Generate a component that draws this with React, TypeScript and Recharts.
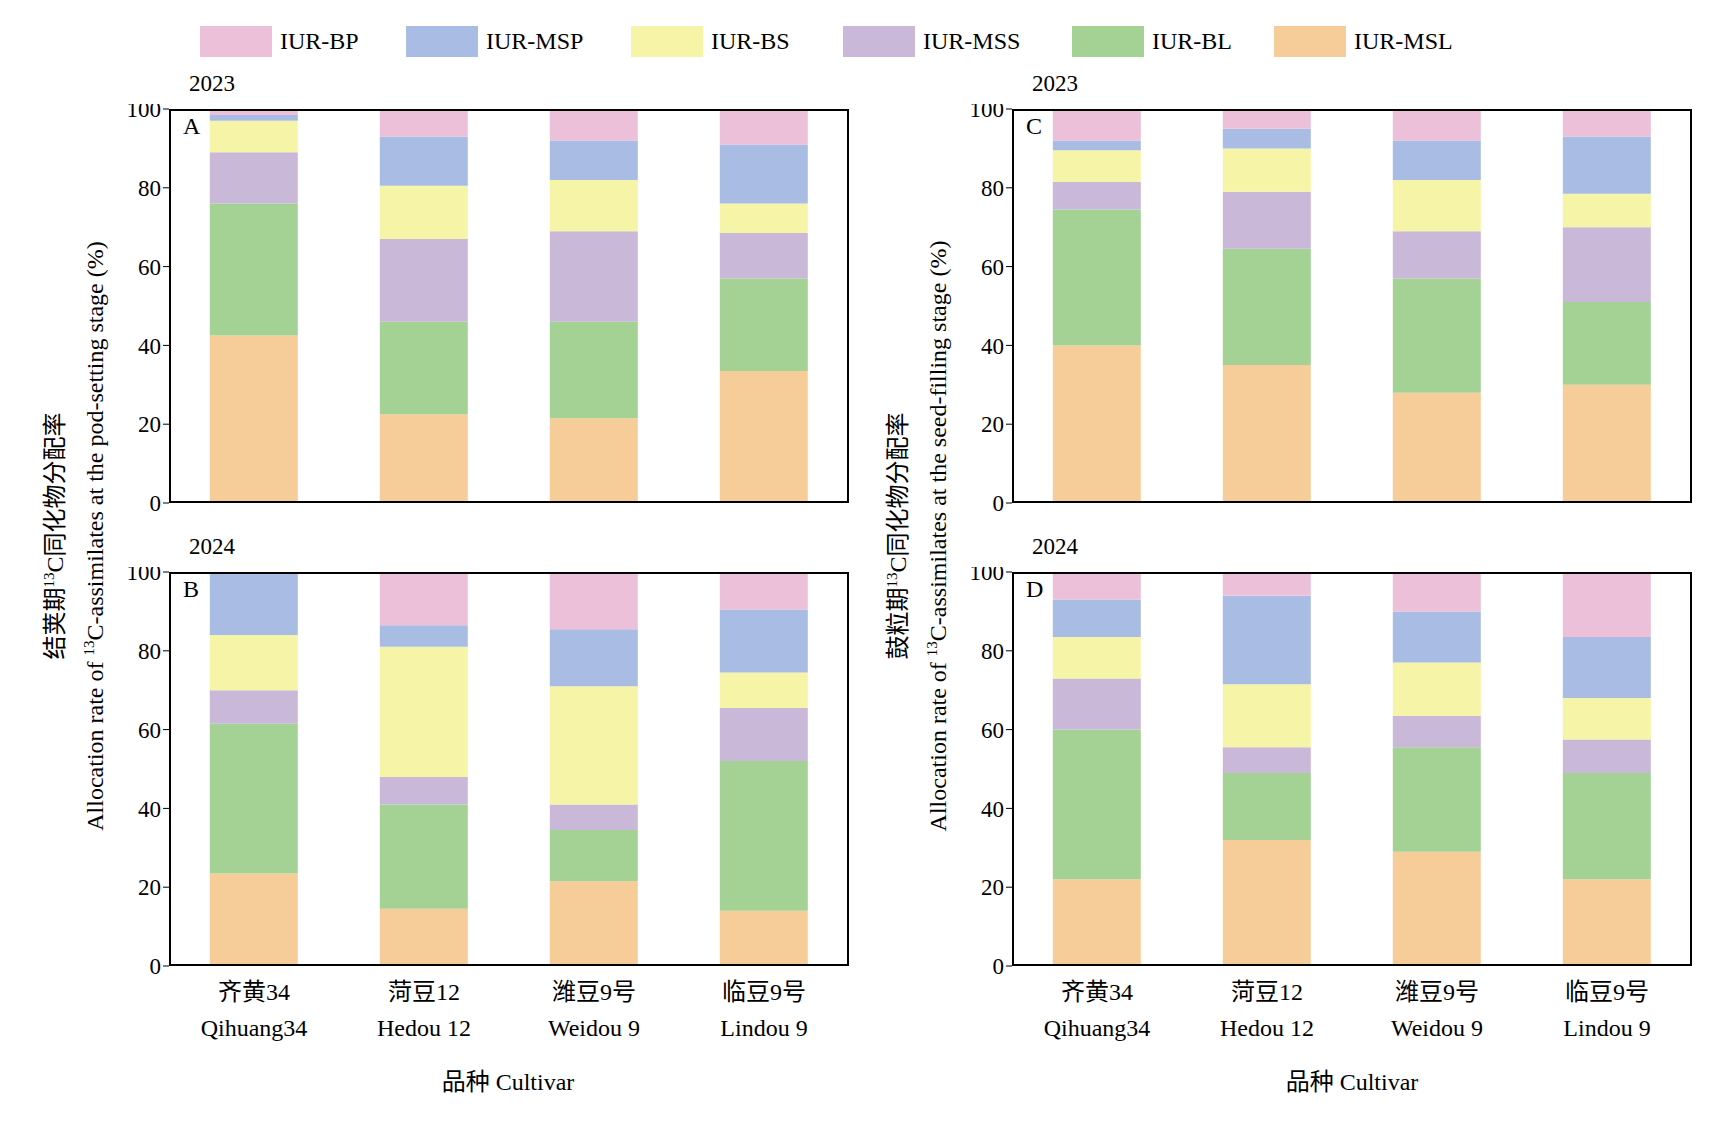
import React from "react";
import { BarChart, Bar, XAxis, YAxis } from "recharts";

const cultivars = ["齐黄34|Qihuang34", "菏豆12|Hedou 12", "潍豆9号|Weidou 9", "临豆9号|Lindou 9"];
const seriesKeys = ["MSL", "BL", "MSS", "BS", "MSP", "BP"];
const seriesNames = ["IUR-MSL", "IUR-BL", "IUR-MSS", "IUR-BS", "IUR-MSP", "IUR-BP"];
const colors = ["#f6cd98", "#a4d295", "#c9b8d8", "#f6f4a6", "#a9bce3", "#ecc0d8"];
const yTicks = [0, 20, 40, 60, 80, 100];

// per cultivar: MSL, BL, MSS, BS, MSP, BP
const panelA = [
  [42.5, 33.5, 13, 8, 1.5, 1.5],
  [22.5, 23.5, 21, 13.5, 12.5, 7],
  [21.5, 24.5, 23, 13, 10, 8],
  [33.5, 23.5, 11.5, 7.5, 15, 9],
];
const panelB = [
  [23.5, 38, 8.5, 14, 16, 0],
  [14.5, 26.5, 7, 33, 5.5, 13.5],
  [21.5, 13, 6.5, 30, 14.5, 14.5],
  [14, 38, 13.5, 9, 16, 9.5],
];
const panelC = [
  [40, 34.5, 7, 8, 2.5, 8],
  [35, 29.5, 14.5, 11, 5, 5],
  [28, 29, 12, 13, 10, 8],
  [30, 21, 19, 8.5, 14.5, 7],
];
const panelD = [
  [22, 38, 13, 10.5, 9.5, 7],
  [32, 17, 6.5, 16, 22.5, 6],
  [29, 26.5, 8, 13.5, 13, 10],
  [22, 27, 8.5, 10.5, 15.5, 16.5],
];

const FONT = "'Liberation Serif', 'Noto Sans CJK SC', serif";
const PW = 680;
const PH = 394;

const toRows = (vals: number[][]) =>
  cultivars.map((c, i) => {
    const r: any = { name: c };
    seriesKeys.forEach((k, j) => (r[k] = vals[i][j]));
    return r;
  });

const XTick = (props: any) => {
  const { x, y, payload } = props;
  const [cn, en] = String(payload.value).split("|");
  return (
    <text x={x} y={y} textAnchor="middle" fontSize={24} fontFamily={FONT} fill="#000">
      <tspan x={x} dy={26}>{cn}</tspan>
      <tspan x={x} dy={36}>{en}</tspan>
    </text>
  );
};

function Panel({ left, top, vals, letter, year, bottom }: any) {
  const xh = bottom ? 80 : 1;
  const mb = bottom ? 0 : 20;
  return (
    <>
      <div style={{ position: "absolute", left: left + 20, top: top - 38, fontSize: 23, fontFamily: FONT }}>{year}</div>
      <div style={{ position: "absolute", left: left - 62, top: top - 5 }}>
        <BarChart width={PW + 62} height={PH + 5 + xh + mb} data={toRows(vals)} margin={{ top: 5, right: 0, bottom: mb, left: 0 }} barCategoryGap="24%">
          <XAxis dataKey="name" height={xh} tick={bottom ? <XTick /> : false} tickLine={false} axisLine={false} />
          <YAxis width={62} domain={[0, 100]} ticks={yTicks} tickSize={6} interval={0} tick={{ fontSize: 23, fontFamily: FONT, fill: "#000" }} axisLine={false} stroke="#000" />
          {seriesKeys.map((k, i) => (
            <Bar key={k} dataKey={k} stackId="s" fill={colors[i]} isAnimationActive={false} />
          ))}
        </BarChart>
      </div>
      <div style={{ position: "absolute", left, top, width: PW, height: PH, border: "2px solid #000", boxSizing: "border-box", pointerEvents: "none" }} />
      <div style={{ position: "absolute", left: left + 14, top: top + 4, fontSize: 24, fontFamily: FONT }}>{letter}</div>
    </>
  );
}

function YLabel({ cx, cy, cn, en }: any) {
  const style: any = { position: "absolute", left: cx, top: cy, transform: "translate(-50%,-50%) rotate(-90deg)", whiteSpace: "nowrap", fontFamily: FONT, fontSize: 24, textAlign: "center", lineHeight: "34px" };
  return (
    <div style={style}>
      <div>{cn[0]}<sup style={{ fontSize: 15 }}>13</sup>{cn[1]}</div>
      <div>Allocation rate of <sup style={{ fontSize: 15 }}>13</sup>C-assimilates at {en} (%)</div>
    </div>
  );
}

export default function App() {
  const legendOrder = [5, 4, 3, 2, 1, 0];
  const legendX = [192, 398, 623, 835, 1064, 1266];
  return (
    <div style={{ position: "relative", width: 1716, height: 1125, background: "#fff", fontFamily: FONT }}>
      {legendOrder.map((si, i) => (
        <div key={si} style={{ position: "absolute", left: legendX[i], top: 18, display: "flex", alignItems: "center" }}>
          <div style={{ width: 72, height: 31, background: colors[si] }} />
          <span style={{ marginLeft: 8, fontSize: 24 }}>{seriesNames[si]}</span>
        </div>
      ))}
      <Panel left={161} top={101} vals={panelA} letter="A" year="2023" />
      <Panel left={161} top={564} vals={panelB} letter="B" year="2024" bottom />
      <Panel left={1004} top={101} vals={panelC} letter="C" year="2023" />
      <Panel left={1004} top={564} vals={panelD} letter="D" year="2024" bottom />
      <YLabel cx={64} cy={528} cn={["结荚期", "C同化物分配率"]} en="the pod-setting stage" />
      <YLabel cx={907} cy={528} cn={["鼓粒期", "C同化物分配率"]} en="the seed-filling stage" />
      <div style={{ position: "absolute", left: 500, top: 1054, transform: "translateX(-50%)", fontSize: 24 }}>品种 Cultivar</div>
      <div style={{ position: "absolute", left: 1344, top: 1054, transform: "translateX(-50%)", fontSize: 24 }}>品种 Cultivar</div>
    </div>
  );
}
